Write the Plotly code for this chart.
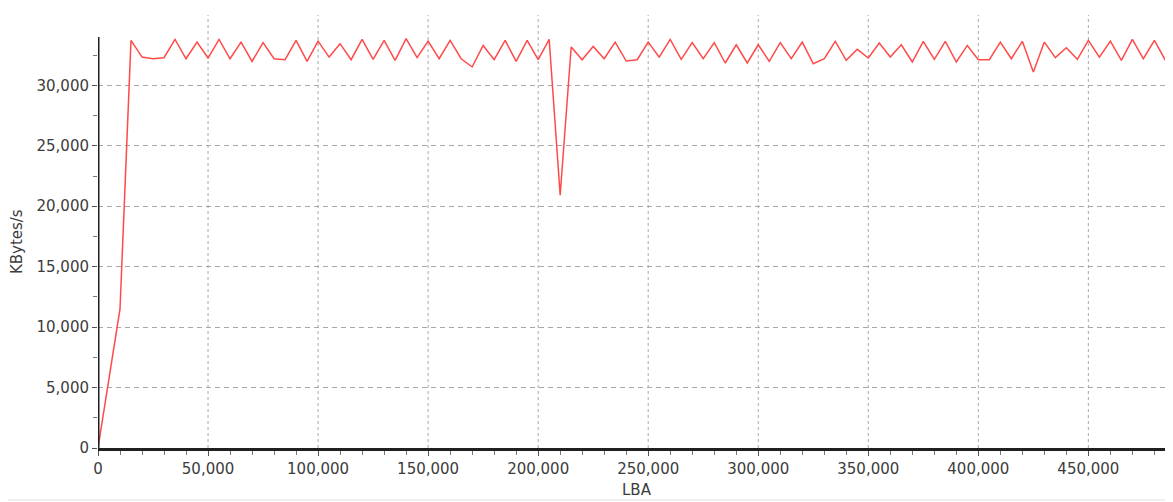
import plotly.graph_objects as go

# ---- data ----
lba = [0, 5000, 10000, 15000, 20000, 25000, 30000, 35000, 40000, 45000,
       50000, 55000, 60000, 65000, 70000, 75000, 80000, 85000, 90000, 95000,
       100000, 105000, 110000, 115000, 120000, 125000, 130000, 135000, 140000, 145000,
       150000, 155000, 160000, 165000, 170000, 175000, 180000, 185000, 190000, 195000,
       200000, 205000, 210000, 215000, 220000, 225000, 230000, 235000, 240000, 245000,
       250000, 255000, 260000, 265000, 270000, 275000, 280000, 285000, 290000, 295000,
       300000, 305000, 310000, 315000, 320000, 325000, 330000, 335000, 340000, 345000,
       350000, 355000, 360000, 365000, 370000, 375000, 380000, 385000, 390000, 395000,
       400000, 405000, 410000, 415000, 420000, 425000, 430000, 435000, 440000, 445000,
       450000, 455000, 460000, 465000, 470000, 475000, 480000, 485000]

kbytes_per_s = [0, 5800, 11500, 33720, 32340, 32200, 32290, 33800, 32200, 33580,
                32260, 33800, 32200, 33580, 31980, 33530, 32200, 32120, 33720, 31980,
                33660, 32340, 33450, 32120, 33800, 32150, 33720, 32070, 33860, 32290,
                33660, 32200, 33720, 32200, 31520, 33300, 32120, 33720, 31980, 33720,
                32120, 33800, 20910, 33170, 32120, 33220, 32200, 33580, 32010, 32120,
                33580, 32340, 33800, 32150, 33530, 32200, 33530, 31850, 33360, 31850,
                33360, 31980, 33530, 32200, 33580, 31790, 32200, 33640, 32070, 32980,
                32260, 33500, 32340, 33360, 31930, 33640, 32150, 33640, 31930, 33300,
                32120, 32120, 33580, 32200, 33640, 31100, 33580, 32290, 33110, 32150,
                33720, 32340, 33660, 32070, 33800, 32200, 33720, 32070]

x_ticks = [0, 50000, 100000, 150000, 200000, 250000, 300000, 350000, 400000, 450000]
y_ticks = [0, 5000, 10000, 15000, 20000, 25000, 30000]

x_title = "LBA"
y_title = "KBytes/s"

x_max = 488000
y_max = 34000

FONT = "DejaVu Sans"
TXT = "#3c3c3c"
GRID = "#a8a8a8"

fig = go.Figure()
fig.add_trace(go.Scatter(
    x=lba, y=kbytes_per_s, mode="lines",
    line=dict(color="#ff4a4a", width=1.5),
    hoverinfo="skip", showlegend=False,
))

# vertical grid lines run a little above the plot area, as in the reference
grid_top = 1.0535
shapes = [
    dict(type="line", xref="x", yref="paper", x0=t, x1=t, y0=0, y1=grid_top,
         line=dict(color=GRID, width=1, dash="3px,3px"), layer="below")
    for t in x_ticks[1:]
]
shapes += [
    dict(type="line", xref="x", yref="y", x0=0, x1=0, y0=0, y1=y_max,
         line=dict(color="#202020", width=3)),
    dict(type="line", xref="paper", yref="paper", x0=-0.1, x1=1.01,
         y0=-0.1265, y1=-0.1265, line=dict(color="#e2e2e2", width=1)),
]

# the page body adds an 8px offset, so the figure is sized to fit the window
fig.update_layout(
    width=1165, height=494,
    margin=dict(l=90, r=1, t=29, b=54),
    paper_bgcolor="white", plot_bgcolor="white",
    font=dict(family=FONT, size=15, color=TXT),
    xaxis=dict(
        range=[0, x_max], tickmode="array", tickvals=x_ticks,
        tickformat=",d", showgrid=False, zeroline=False, automargin=False,
        showline=True, linecolor="#202020", linewidth=3,
        ticks="outside", ticklen=5, tickcolor="#555", tickwidth=1,
        minor=dict(dtick=10000, tick0=0, ticks="outside", ticklen=4,
                   tickcolor="#777", showgrid=False),
        tickfont=dict(family=FONT, size=15, color=TXT),
        fixedrange=True,
    ),
    yaxis=dict(
        range=[0, y_max], tickmode="array", tickvals=y_ticks,
        tickformat=",d", showgrid=True, gridcolor=GRID, gridwidth=1,
        griddash="5px,4px", zeroline=False, showline=False, automargin=False,
        ticks="outside", ticklen=5, tickcolor="#555", tickwidth=1,
        minor=dict(dtick=2500, tick0=0, ticks="outside", ticklen=4,
                   tickcolor="#777", showgrid=False),
        tickfont=dict(family=FONT, size=15, color=TXT),
        fixedrange=True,
    ),
    shapes=shapes,
    annotations=[
        dict(text=y_title, xref="paper", yref="paper", x=-0.0754, y=0.501,
             xanchor="center", yanchor="middle", textangle=-90, showarrow=False,
             font=dict(family=FONT, size=15, color=TXT)),
        dict(text=x_title, xref="paper", yref="paper", x=0.502, y=-0.102,
             xanchor="center", yanchor="middle", showarrow=False,
             font=dict(family=FONT, size=15, color=TXT)),
    ],
)

fig.write_html("out.html")
